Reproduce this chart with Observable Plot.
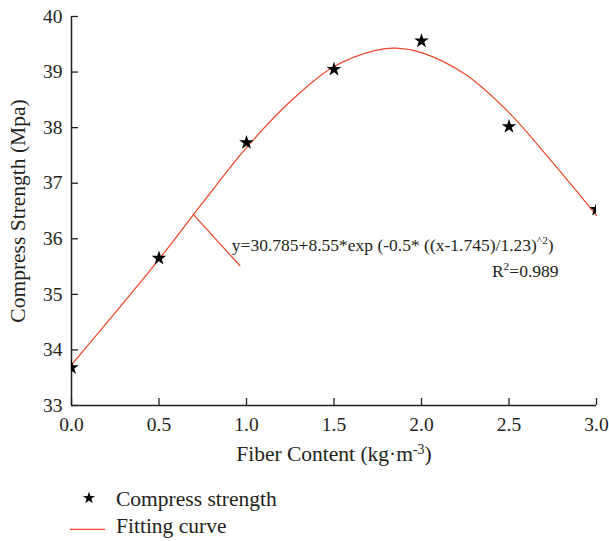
<!DOCTYPE html>
<html><head><meta charset="utf-8">
<script src="https://cdn.jsdelivr.net/npm/d3@7"></script>
<script src="https://cdn.jsdelivr.net/npm/@observablehq/plot@0.6"></script>
<style>
body{margin:0;background:#fff;font-family:"Liberation Serif",serif}
#chart{position:relative;width:609px;height:541px}
#chart svg{display:block}
</style>
</head><body><div id="chart"></div>
<script>
// measured points
const fiberContent = [0, 0.5, 1.0, 1.5, 2.0, 2.5, 3.0];
const compressStrength = [33.68, 35.65, 37.73, 39.05, 39.56, 38.02, 36.53];
// fitted curve
const curveX = [0, 0.25, 0.5, 0.75, 1.0, 1.25, 1.5, 1.75, 1.85, 2.0, 2.25, 2.5, 2.75, 3.0];
const curveY = [33.73, 34.67, 35.63, 36.65, 37.64, 38.47, 39.10, 39.40, 39.43, 39.35, 38.96, 38.27, 37.37, 36.42];
// axes
const xTicks = [0, 0.5, 1, 1.5, 2, 2.5, 3];
const xTickLabels = ["0.0", "0.5", "1.0", "1.5", "2.0", "2.5", "3.0"];
const yTicks = [33, 34, 35, 36, 37, 38, 39, 40];
const xTitle = "Fiber Content (kg·m-3)";
const yTitle = "Compress Strength (Mpa)";
// annotation
const eqText = "y=30.785+8.55*exp (-0.5* ((x-1.745)/1.23)^2)";
const r2Text = "R2=0.989";
const eqPos = [0.916, 35.875];
const r2Pos = [2.783, 35.41];
const leader = [{x1: 0.693, y1: 36.45, x2: 0.964, y2: 35.51}];
const legendLabels = ["Compress strength", "Fitting curve"];

const red = "#ee4424";
const ink = "#231f20";
const serif = "Liberation Serif, serif";

const points = fiberContent.map((x, i) => ({x, y: compressStrength[i]}));
const curve = curveX.map((x, i) => ({x, y: curveY[i]}));

const plot = Plot.plot({
  width: 609,
  height: 475,
  marginLeft: 71,
  marginRight: 13,
  marginTop: 16,
  marginBottom: 70,
  style: {fontFamily: serif, color: ink, background: "white", overflow: "visible"},
  x: {domain: [0, 3]},
  y: {domain: [33, 40]},
  marks: [
    Plot.axisX(xTicks, {tickSize: -7, tickPadding: 19, fontSize: 19.5, fontFamily: serif, label: null, tickFormat: d => xTickLabels[xTicks.indexOf(d)], stroke: ink, strokeWidth: 1.3}),
    Plot.axisY(yTicks, {tickSize: -7, tickPadding: 16, fontSize: 19.5, fontFamily: serif, label: null, tickFormat: d => String(d), stroke: ink, strokeWidth: 1.3}),
    Plot.ruleX([0], {stroke: ink, strokeWidth: 1.5}),
    Plot.ruleY([33], {stroke: ink, strokeWidth: 1.5}),
    Plot.line(curve, {x: "x", y: "y", stroke: red, strokeWidth: 1.2, curve: "catmull-rom"}),
    Plot.link(leader, {x1: "x1", y1: "y1", x2: "x2", y2: "y2", stroke: red, strokeWidth: 1.2}),
    Plot.dot(points, {x: "x", y: "y", symbol: "star", fill: "black", stroke: "none", r: 4.6, clip: true}),
    Plot.text([eqText], {x: () => eqPos[0], y: () => eqPos[1], text: d => d, textAnchor: "start", lineAnchor: "middle", fontSize: 17.5, fontFamily: serif, fill: ink}),
    Plot.text([r2Text], {x: () => r2Pos[0], y: () => r2Pos[1], text: d => d, textAnchor: "end", lineAnchor: "middle", fontSize: 17.5, fontFamily: serif, fill: ink}),
    Plot.text([yTitle], {frameAnchor: "left", rotate: -90, dx: -53, textAnchor: "middle", lineAnchor: "middle", fontSize: 21.5, fontFamily: serif, fill: ink}),
    Plot.text([xTitle], {frameAnchor: "bottom", dy: 49, textAnchor: "middle", lineAnchor: "middle", fontSize: 21.5, fontFamily: serif, fill: ink})
  ]
});

function rich(content, parts) {
  const t = Array.from(plot.querySelectorAll("text")).find(e => e.textContent === content);
  if (!t) return;
  t.textContent = "";
  const ns = "http://www.w3.org/2000/svg";
  let raised = false;
  for (const [s, sup] of parts) {
    const ts = document.createElementNS(ns, "tspan");
    ts.textContent = s;
    if (sup) { ts.setAttribute("font-size", "65%"); ts.setAttribute("dy", "-7"); raised = true; }
    else if (raised) { ts.setAttribute("dy", "7"); raised = false; }
    t.appendChild(ts);
  }
}
rich(xTitle, [["Fiber Content (kg·m", false], ["-3", true], [")", false]]);
rich(eqText, [["y=30.785+8.55*exp (-0.5* ((x-1.745)/1.23)", false], ["^2", true], [")", false]]);
rich(r2Text, [["R", false], ["2", true], ["=0.989", false]]);

document.getElementById("chart").appendChild(plot);

// legend below the plot
const leg = d3.create("svg").attr("width", 609).attr("height", 66)
  .style("font-family", serif);
leg.append("path").attr("d", d3.symbol(d3.symbolStar, 46)()).attr("transform", "translate(89,23)").attr("fill", "black");
leg.append("text").attr("x", 116).attr("y", 31).attr("font-size", 21.5).attr("fill", ink).text(legendLabels[0]);
leg.append("line").attr("x1", 70).attr("x2", 105).attr("y1", 54.3).attr("y2", 54.3).attr("stroke", red).attr("stroke-width", 1.2);
leg.append("text").attr("x", 116).attr("y", 58).attr("font-size", 21.5).attr("fill", ink).text(legendLabels[1]);
document.getElementById("chart").appendChild(leg.node());
</script>
</body></html>
